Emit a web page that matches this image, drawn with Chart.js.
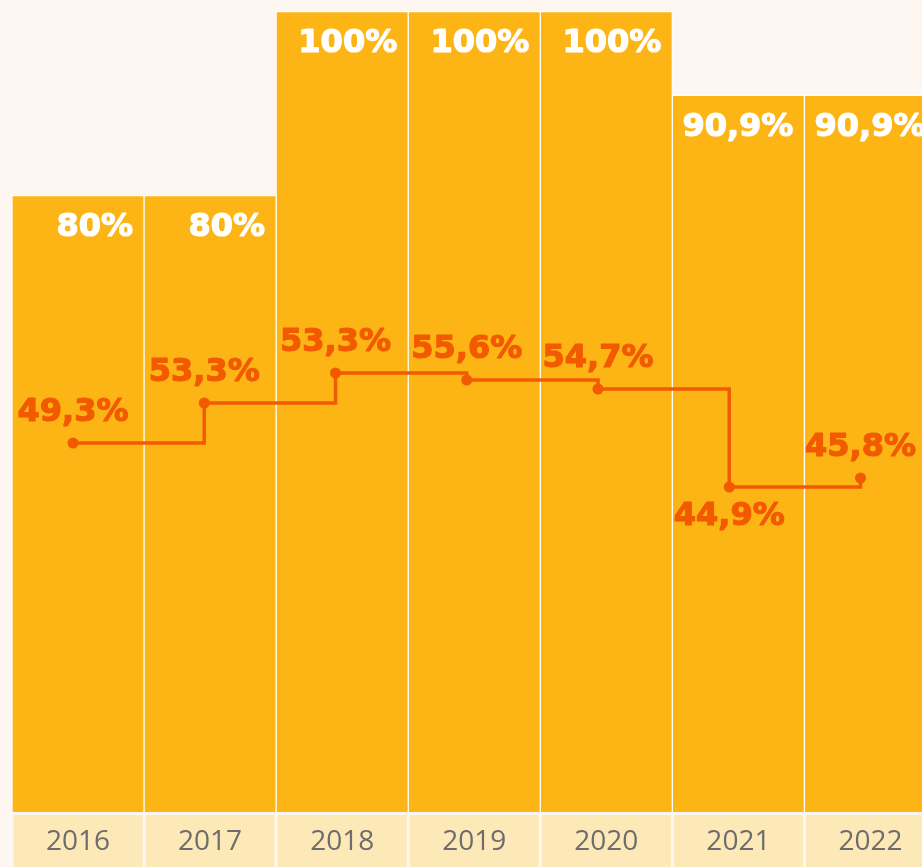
<!DOCTYPE html>
<html>
<head>
<meta charset="utf-8">
<script src="https://cdn.jsdelivr.net/npm/chart.js@4.4.1/dist/chart.umd.min.js"></script>
<style>
    html, body { margin: 0; padding: 0; background: #fef6f1; overflow: hidden; }
    #contenedor { position: relative; width: 942px; height: 867px; }
</style>
</head>
<body>
<div id="contenedor"><canvas id="grafico"></canvas></div>
<script>
// Datos del gráfico
const anios = ['2016', '2017', '2018', '2019', '2020', '2021', '2022'];
const valoresBarras = [80, 80, 100, 100, 100, 90.9, 90.9];
const etiquetasBarras = ['80%', '80%', '100%', '100%', '100%', '90,9%', '90,9%'];
const valoresLinea = [49.3, 53.3, 56.3, 55.6, 54.7, 44.9, 45.8];
const etiquetasLinea = ['49,3%', '53,3%', '53,3%', '55,6%', '54,7%', '44,9%', '45,8%'];

const COLOR_BARRA = '#fdb415';
const COLOR_LINEA = '#f25a00';
const COLOR_BANDA = '#fde8b7';
const FUENTE_ETIQUETA = 'bold 32px "DejaVu Sans"';

// Dibuja la banda amarilla clara del eje X, celda por celda
const bandaEjeX = {
    id: 'bandaEjeX',
    beforeDraw(chart) {
        const { ctx, chartArea, scales } = chart;
        const x = scales.x;
        const paso = x.getPixelForValue(1) - x.getPixelForValue(0);
        ctx.save();
        ctx.fillStyle = COLOR_BANDA;
        anios.forEach((_, i) => {
            const izq = x.getPixelForValue(i) - paso / 2;
            ctx.fillRect(izq + 1.5, chartArea.bottom + 3, paso - 3, chart.height - chartArea.bottom);
        });
        ctx.restore();
    }
};

// Etiquetas de valores sobre barras y puntos
const etiquetasValores = {
    id: 'etiquetasValores',
    afterDatasetsDraw(chart) {
        const { ctx } = chart;
        ctx.save();
        ctx.font = FUENTE_ETIQUETA;
        ctx.textBaseline = 'alphabetic';
        ctx.lineWidth = 1.2;
        ctx.lineJoin = 'round';

        const barras = chart.getDatasetMeta(0).data;
        ctx.fillStyle = '#ffffff';
        ctx.strokeStyle = '#ffffff';
        ctx.textAlign = 'right';
        barras.forEach((bar, i) => {
            const x = bar.x + bar.width / 2 - 11;
            ctx.fillText(etiquetasBarras[i], x, bar.y + 41);
            ctx.strokeText(etiquetasBarras[i], x, bar.y + 41);
        });

        const puntos = chart.getDatasetMeta(1).data;
        const minimo = Math.min(...valoresLinea);
        ctx.fillStyle = COLOR_LINEA;
        ctx.strokeStyle = COLOR_LINEA;
        ctx.textAlign = 'center';
        puntos.forEach((p, i) => {
            const y = valoresLinea[i] === minimo ? p.y + 38 : p.y - 22;
            ctx.fillText(etiquetasLinea[i], p.x, y);
            ctx.strokeText(etiquetasLinea[i], p.x, y);
        });
        ctx.restore();
    }
};

const ctx = document.getElementById('grafico').getContext('2d');

new Chart(ctx, {
    type: 'bar',
    data: {
        labels: anios,
        datasets: [{
            label: 'Barras',
            data: valoresBarras,
            backgroundColor: COLOR_BARRA,
            borderColor: '#ffffff',
            borderWidth: { top: 1.5, left: 1, right: 1, bottom: 0 },
            borderSkipped: 'start',
            barPercentage: 1,
            categoryPercentage: 1,
            grouped: false,
            xAxisID: 'x',
            yAxisID: 'y',
            order: 2
        }, {
            type: 'line',
            label: 'Línea',
            data: valoresLinea.map((v, i) => ({ x: i, y: v })),
            borderColor: COLOR_LINEA,
            borderWidth: 3.5,
            stepped: true,
            pointRadius: 5.5,
            pointBackgroundColor: COLOR_LINEA,
            pointBorderWidth: 0,
            xAxisID: 'xLinea',
            yAxisID: 'yLinea',
            order: 1
        }]
    },
    options: {
        responsive: true,
        maintainAspectRatio: false,
        animation: false,
        layout: {
            padding: { left: 12, top: 11, right: 0, bottom: 0 }
        },
        scales: {
            x: {
                type: 'category',
                offset: true,
                grid: { display: false, drawTicks: false },
                border: { display: false },
                ticks: {
                    color: '#6d6d6d',
                    font: { family: '"Open Sans"', size: 28, weight: 400 },
                    padding: 13
                },
                afterFit(scale) {
                    scale.height = 55;
                }
            },
            xLinea: {
                type: 'linear',
                display: false,
                offset: false,
                grid: { offset: false },
                min: -0.465,
                max: 6.579
            },
            y: {
                display: false,
                min: 12.93,
                max: 100
            },
            yLinea: {
                display: false,
                min: 12.4,
                max: 92.5
            }
        },
        plugins: {
            legend: { display: false },
            title: { display: false },
            tooltip: { enabled: false }
        }
    },
    plugins: [bandaEjeX, etiquetasValores]
});
</script>
</body>
</html>
